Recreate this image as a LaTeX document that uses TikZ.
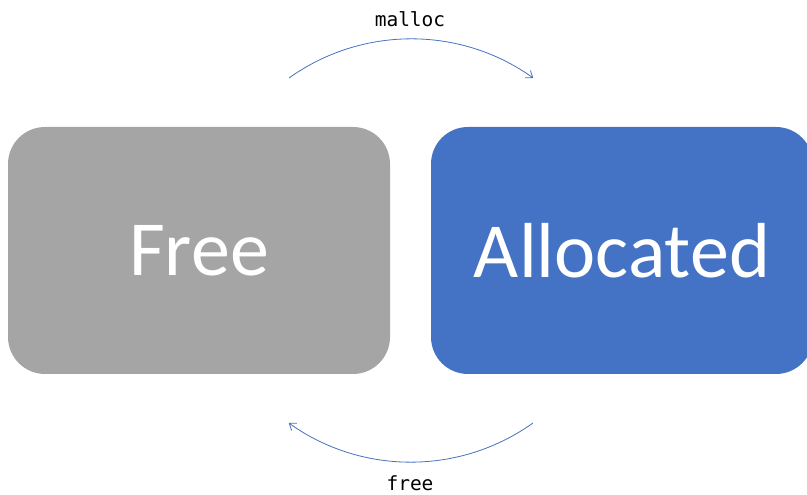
\documentclass[tikz,border=0pt]{standalone}
\usepackage{fontspec}
\setmainfont{Carlito}
\newfontfamily\monofont{DejaVu Sans Mono}
\usetikzlibrary{arrows.meta}
\definecolor{boxgray}{HTML}{A5A5A5}
\definecolor{boxblue}{HTML}{4472C4}
\tikzset{
  statebox/.style={rounded corners=37pt, minimum width=382pt, minimum height=247pt, inner sep=0pt, text=white, font=\fontsize{78}{86}\selectfont},
  arcline/.style={draw=boxblue, line width=0.8pt, -{Straight Barb[length=6pt,width=9pt]}},
  oplabel/.style={font=\monofont\fontsize{19.5}{22}\selectfont, inner sep=0pt}
}
\begin{document}
\begin{tikzpicture}[x=1pt,y=1pt]
\useasboundingbox (0,0) rectangle (807,495);
\clip (0,0) rectangle (807,495);
\node[statebox, fill=boxgray] (free) at (199,244.5) {Free};
\node[statebox, fill=boxblue] (alloc) at (622,244.5) {Allocated};
\coordinate (m1) at (289,417);
\coordinate (m2) at (533,417);
\coordinate (f1) at (533,72);
\coordinate (f2) at (289,72);
\node[oplabel] (mlab) at (410,476) {malloc};
\node[oplabel] (flab) at (410,12) {free};
\draw[arcline] (m1) arc[start angle=125.5, end angle=54.5, radius=210.3pt];
\draw[arcline] (f1) arc[start angle=-54.5, end angle=-125.5, radius=210.3pt];
\end{tikzpicture}
\end{document}
